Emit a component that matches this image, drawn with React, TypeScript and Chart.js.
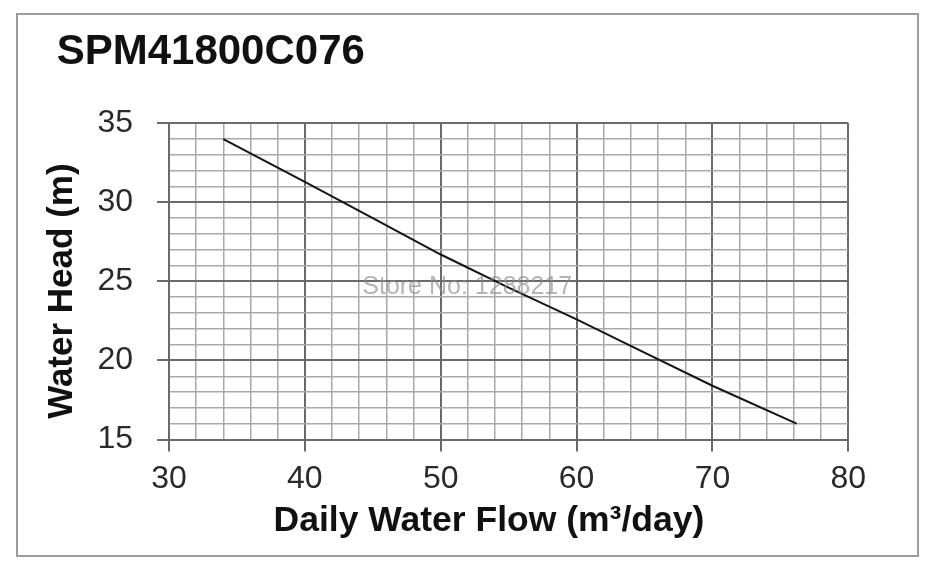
import { useEffect, useRef } from "react";
import { Chart, registerables, type ChartConfiguration, type Plugin } from "chart.js";

Chart.register(...registerables);

// pump curve
const flowValues = [34, 40, 45, 50, 55, 60, 65, 70, 76.2];
const headValues = [34, 31.3, 29.0, 26.7, 24.6, 22.6, 20.5, 18.4, 16.0];

const xTicks = [30, 40, 50, 60, 70, 80];
const yTicks = [15, 20, 25, 30, 35];

const chartTitle = "SPM41800C076";
const xTitle = "Daily Water Flow (m³/day)";
const yTitle = "Water Head (m)";
const watermark = "Store No: 1288217";

const FONT = "'Liberation Sans', Arial, sans-serif";
const MAJOR = "#6a6a6a";
const MINOR = "#a9a9a9";

const isMajorX = (v: number) => xTicks.includes(Math.round(v * 100) / 100);
const isMajorY = (v: number) => yTicks.includes(Math.round(v * 100) / 100);

const watermarkPlugin: Plugin = {
  id: "watermark",
  afterDraw(chart) {
    const { ctx, chartArea } = chart;
    ctx.save();
    ctx.font = `25px ${FONT}`;
    ctx.fillStyle = "rgba(140,140,140,0.65)";
    ctx.textAlign = "center";
    ctx.textBaseline = "middle";
    ctx.fillText(
      watermark,
      chartArea.left + chartArea.width * 0.439,
      chartArea.top + chartArea.height * 0.518
    );
    ctx.restore();
  },
};

export default function App() {
  const canvasRef = useRef<HTMLCanvasElement>(null);

  useEffect(() => {
    if (!canvasRef.current) return;

    const config: ChartConfiguration<"line"> = {
      type: "line",
      data: {
        datasets: [
          {
            label: yTitle,
            data: flowValues.map((x, i) => ({ x, y: headValues[i] })),
            borderColor: "#151515",
            borderWidth: 2,
            pointRadius: 0,
            tension: 0,
          },
        ],
      },
      options: {
        animation: false,
        responsive: true,
        maintainAspectRatio: false,
        layout: { padding: { left: 45, right: 86.7, top: 0, bottom: 29 } },
        plugins: {
          legend: { display: false },
          tooltip: { enabled: false },
          title: {
            display: true,
            text: " " + chartTitle,
            align: "start",
            color: "#111",
            font: { family: FONT, size: 42, weight: "bold", lineHeight: 1 },
            padding: { top: 31.5, bottom: 49.8 },
          },
        },
        scales: {
          x: {
            type: "linear",
            min: 30,
            max: 80,
            border: { color: MAJOR, width: 2 },
            grid: {
              color: (c) => (isMajorX(c.tick.value) ? MAJOR : MINOR),
              lineWidth: (c) => (isMajorX(c.tick.value) ? 2 : 1.5),
              tickColor: (c) => (isMajorX(c.tick.value) ? MAJOR : "transparent"),
              tickLength: 12,
              tickWidth: 2,
            },
            ticks: {
              stepSize: 2,
              autoSkip: false,
              maxRotation: 0,
              padding: 12,
              color: "#2a2a2a",
              font: { family: FONT, size: 32, lineHeight: 1 },
              callback: (v) => (isMajorX(Number(v)) ? String(v) : ""),
            },
            title: {
              display: true,
              text: xTitle + "    ",
              color: "#111",
              font: { family: FONT, size: 35.5, weight: "bold", lineHeight: 1 },
              padding: { top: -4, bottom: 4 },
            },
          },
          y: {
            type: "linear",
            min: 15,
            max: 35,
            border: { color: MAJOR, width: 2 },
            grid: {
              color: (c) => (isMajorY(c.tick.value) ? MAJOR : MINOR),
              lineWidth: (c) => (isMajorY(c.tick.value) ? 2 : 1.5),
              tickColor: (c) => (isMajorY(c.tick.value) ? MAJOR : "transparent"),
              tickLength: 12,
              tickWidth: 2,
            },
            ticks: {
              stepSize: 1,
              autoSkip: false,
              padding: 24,
              color: "#2a2a2a",
              font: { family: FONT, size: 32, lineHeight: 1 },
              callback: (v) => (isMajorY(Number(v)) ? String(v) : ""),
            },
            title: {
              display: true,
              text: yTitle + "  ",
              color: "#111",
              font: { family: FONT, size: 35, weight: "bold", lineHeight: 1 },
              padding: { top: 0, bottom: -6.6 },
            },
          },
        },
      },
      plugins: [watermarkPlugin],
    };

    const chart = new Chart(canvasRef.current, config);
    return () => chart.destroy();
  }, []);

  return (
    <div
      style={{
        position: "absolute",
        left: 0,
        top: 0,
        width: 935,
        height: 572,
        background: "#fff",
      }}
    >
      <canvas ref={canvasRef} />
      <div
        style={{
          position: "absolute",
          left: 16,
          top: 13,
          width: 903,
          height: 544,
          boxSizing: "border-box",
          border: "2px solid #9c9c9c",
          pointerEvents: "none",
        }}
      />
    </div>
  );
}
